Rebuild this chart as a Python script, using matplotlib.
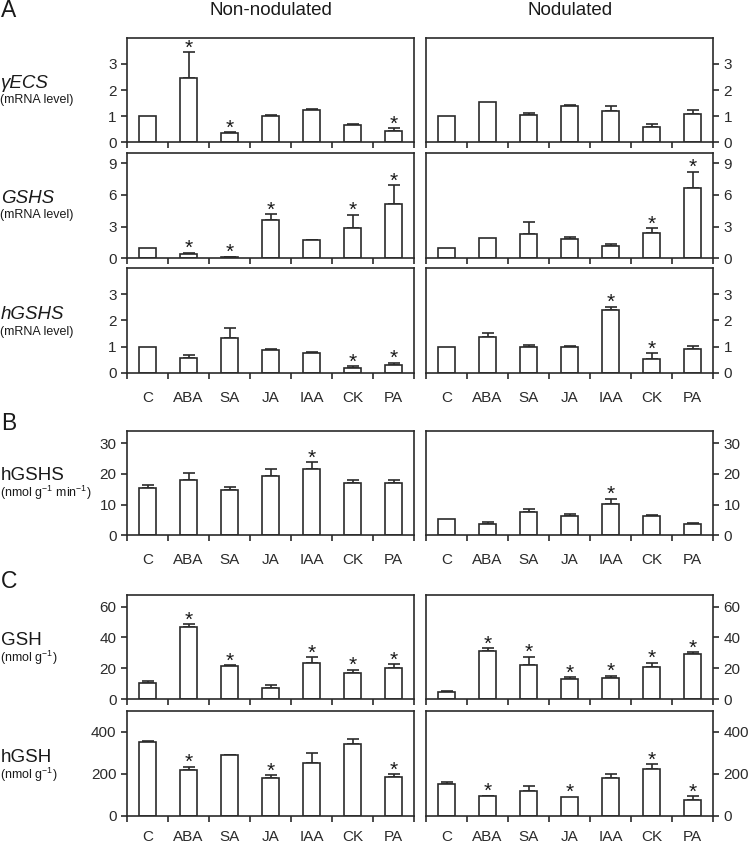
import numpy as np
import matplotlib

matplotlib.use("Agg")

import matplotlib.pyplot as plt

categories = ["C", "ABA", "SA", "JA", "IAA", "CK", "PA"]

# A - gamma-ECS mRNA level
ecs_non = [1.0, 2.47, 0.35, 1.02, 1.23, 0.68, 0.43]
ecs_non_err = [0.0, 0.98, 0.03, 0.02, 0.04, 0.03, 0.10]
ecs_non_sig = [0, 1, 1, 0, 0, 0, 1]
ecs_nod = [1.0, 1.55, 1.06, 1.37, 1.21, 0.60, 1.10]
ecs_nod_err = [0.0, 0.0, 0.06, 0.04, 0.17, 0.10, 0.15]
ecs_nod_sig = [0, 0, 0, 0, 0, 0, 0]

# A - GSHS mRNA level
gshs_non = [1.0, 0.41, 0.10, 3.63, 1.75, 2.83, 5.15]
gshs_non_err = [0.0, 0.13, 0.03, 0.57, 0.03, 1.30, 1.75]
gshs_non_sig = [0, 1, 1, 1, 0, 1, 1]
gshs_nod = [1.0, 1.92, 2.30, 1.79, 1.12, 2.40, 6.61]
gshs_nod_err = [0.0, 0.0, 1.12, 0.19, 0.26, 0.45, 1.60]
gshs_nod_sig = [0, 0, 0, 0, 0, 1, 1]

# A - hGSHS mRNA level
hgshs_non = [1.0, 0.57, 1.34, 0.88, 0.77, 0.19, 0.28]
hgshs_non_err = [0.0, 0.09, 0.36, 0.02, 0.01, 0.06, 0.10]
hgshs_non_sig = [0, 0, 0, 0, 0, 1, 1]
hgshs_nod = [1.0, 1.38, 0.99, 0.99, 2.40, 0.53, 0.91]
hgshs_nod_err = [0.0, 0.16, 0.06, 0.03, 0.12, 0.21, 0.10]
hgshs_nod_sig = [0, 0, 0, 0, 1, 1, 0]

# B - hGSHS activity
act_non = [15.4, 18.1, 14.7, 19.2, 21.6, 16.9, 16.9]
act_non_err = [1.1, 2.3, 1.0, 2.3, 2.2, 1.1, 1.0]
act_non_sig = [0, 0, 0, 0, 1, 0, 0]
act_nod = [5.3, 3.8, 7.5, 6.2, 10.2, 6.2, 3.7]
act_nod_err = [0.0, 0.55, 1.2, 0.9, 1.75, 0.35, 0.2]
act_nod_sig = [0, 0, 0, 0, 1, 0, 0]

# C - GSH
gsh_non = [10.8, 46.6, 21.4, 7.6, 23.3, 17.0, 20.1]
gsh_non_err = [1.3, 1.9, 0.6, 1.5, 4.1, 2.2, 2.6]
gsh_non_sig = [0, 1, 1, 0, 1, 1, 1]
gsh_nod = [5.0, 31.2, 22.3, 13.4, 14.1, 20.8, 29.0]
gsh_nod_err = [0.3, 1.7, 5.2, 0.9, 1.1, 3.0, 1.3]
gsh_nod_sig = [0, 1, 1, 1, 1, 1, 1]

# C - hGSH
hgsh_non = [351, 217, 288, 182, 253, 343, 183]
hgsh_non_err = [8, 17, 3, 11, 46, 25, 16]
hgsh_non_sig = [0, 1, 0, 1, 0, 0, 1]
hgsh_nod = [150, 93, 120, 90, 180, 221, 77]
hgsh_nod_err = [9, 3, 21, 0, 17, 25, 17]
hgsh_nod_sig = [0, 1, 0, 1, 0, 1, 1]

INK = "#2b2b2b"
W, H = 749, 846
LEFT_COL = (127, 414)
RIGHT_COL = (426, 713)

plt.rcParams.update(
    {
        "font.family": ["Liberation Sans", "DejaVu Sans"],
        "mathtext.default": "regular",
        "axes.edgecolor": INK,
        "axes.linewidth": 1.2,
        "xtick.color": INK,
        "ytick.color": INK,
        "text.color": "#1a1a1a",
    }
)


def px_axes(fig, x0, x1, y0, y1):
    return fig.add_axes([x0 / W, 1 - y1 / H, (x1 - x0) / W, (y1 - y0) / H])


def draw_panel(ax, vals, errs, sig, ymax, yticks, side, label_pad):
    x = np.arange(len(vals)) + 0.5
    vals = np.asarray(vals, dtype=float)
    errs = np.asarray(errs, dtype=float)
    ax.bar(x, vals, width=0.42, color="white", edgecolor=INK, linewidth=1.2, zorder=2)
    has_err = errs > 0
    ax.errorbar(
        x[has_err],
        vals[has_err],
        yerr=[np.zeros(has_err.sum()), errs[has_err]],
        fmt="none",
        ecolor=INK,
        elinewidth=1.2,
        capsize=4.2,
        capthick=1.2,
        zorder=1,
    )
    for xi, v, e, s in zip(x, vals, errs, sig):
        if s:
            ax.annotate(
                "*",
                (xi, v + e),
                xytext=(0, -1),
                textcoords="offset points",
                ha="center",
                va="baseline",
                fontsize=15,
            )

    ax.set_xlim(0, 7)
    ax.set_ylim(0, ymax)
    ax.set_yticks(yticks)
    ax.set_xticks(np.arange(8))
    ax.set_xticklabels([])
    ax.set_xticks(x, minor=True)
    ax.set_xticklabels(categories if label_pad else [""] * 7, minor=True)
    ax.tick_params(axis="x", which="major", direction="out", length=4, width=1.2)
    ax.tick_params(axis="x", which="minor", length=0, pad=label_pad or 13, labelsize=11)
    ax.tick_params(axis="y", direction="out", length=4, width=1.2, pad=3.5, labelsize=11)
    if side == "right":
        ax.yaxis.tick_right()
        ax.tick_params(axis="y", left=False, right=True)


# rows: (top px, bottom px, ymax, yticks, left data, right data, category label pad)
rows = [
    (37.7, 142.3, 4, [0, 1, 2, 3], (ecs_non, ecs_non_err, ecs_non_sig), (ecs_nod, ecs_nod_err, ecs_nod_sig), 0),
    (152.7, 258.3, 10, [0, 3, 6, 9], (gshs_non, gshs_non_err, gshs_non_sig), (gshs_nod, gshs_nod_err, gshs_nod_sig), 0),
    (268.3, 372.7, 4, [0, 1, 2, 3], (hgshs_non, hgshs_non_err, hgshs_non_sig), (hgshs_nod, hgshs_nod_err, hgshs_nod_sig), 13),
    (431.0, 535.3, 34, [0, 10, 20, 30], (act_non, act_non_err, act_non_sig), (act_nod, act_nod_err, act_nod_sig), 13),
    (595.0, 699.3, 67.5, [0, 20, 40, 60], (gsh_non, gsh_non_err, gsh_non_sig), (gsh_nod, gsh_nod_err, gsh_nod_sig), 0),
    (711.0, 815.7, 500, [0, 200, 400], (hgsh_non, hgsh_non_err, hgsh_non_sig), (hgsh_nod, hgsh_nod_err, hgsh_nod_sig), 10),
]

fig = plt.figure(figsize=(W / 100, H / 100), dpi=100)

for top, bottom, ymax, yticks, left_data, right_data, pad in rows:
    axl = px_axes(fig, LEFT_COL[0], LEFT_COL[1], top, bottom)
    draw_panel(axl, *left_data, ymax, yticks, "left", pad)
    axr = px_axes(fig, RIGHT_COL[0], RIGHT_COL[1], top, bottom)
    draw_panel(axr, *right_data, ymax, yticks, "right", pad)


def fig_text(x, y, s, **kw):
    fig.text(x / W, 1 - y / H, s, **kw)


# column titles and panel letters
fig_text(271, 15, "Non-nodulated", ha="center", va="baseline", fontsize=13.5)
fig_text(570, 15, "Nodulated", ha="center", va="baseline", fontsize=13.5)
fig_text(1, 17, "A", ha="left", va="baseline", fontsize=16.5)
fig_text(1, 430, "B", ha="left", va="baseline", fontsize=16.5)
fig_text(1, 588, "C", ha="left", va="baseline", fontsize=16.5)

# row labels: (name baseline y, unit baseline y, name, unit, italic)
row_labels = [
    (88, 103, "\u03b3ECS", "(mRNA level)", True),
    (203, 218, "GSHS", "(mRNA level)", True),
    (319, 335, "hGSHS", "(mRNA level)", True),
    (480, 497, "hGSHS", "(nmol g$^{-1}$ min$^{-1}$)", False),
    (645, 662, "GSH", "(nmol g$^{-1}$)", False),
    (762, 779, "hGSH", "(nmol g$^{-1}$)", False),
]
for name_y, unit_y, name, unit, italic in row_labels:
    fig_text(1, name_y, name, ha="left", va="baseline", fontsize=13.5,
             style="italic" if italic else "normal")
    fig_text(0, unit_y, unit, ha="left", va="baseline", fontsize=9)

fig.savefig("out.png", dpi=100)
